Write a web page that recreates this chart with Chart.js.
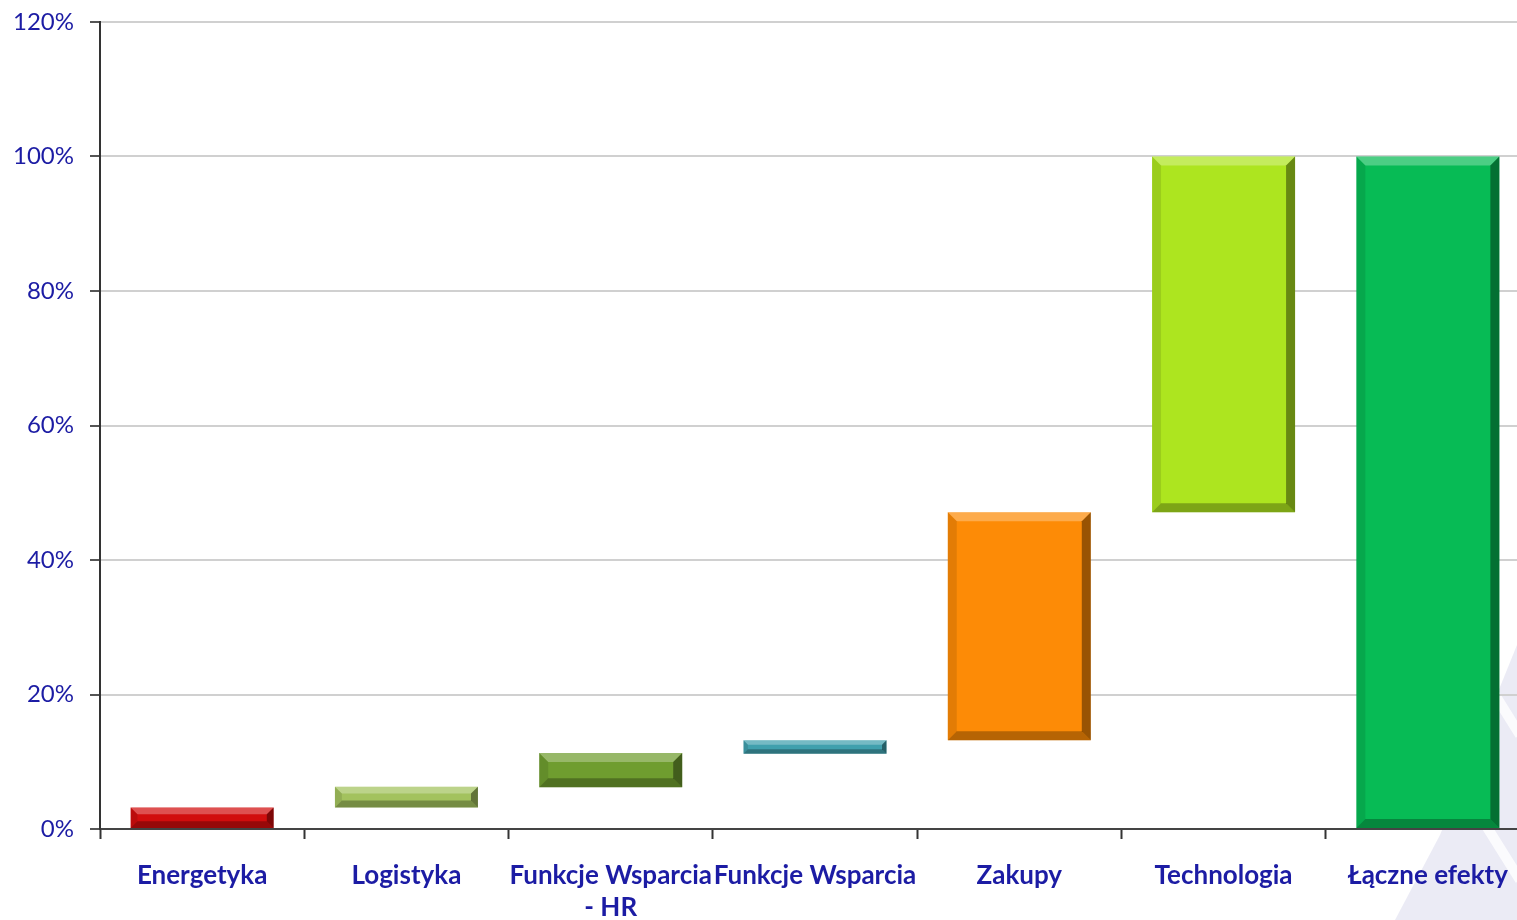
<!DOCTYPE html>
<html lang="pl">
<head>
  <meta charset="UTF-8" />
  <title>Efekty – wykres kaskadowy</title>
  <script src="https://cdn.jsdelivr.net/npm/chart.js"></script>
  <style>
    body {
      margin: 0;
      padding: 0;
      background: #ffffff;
      overflow: hidden;
    }
    /* plot runs a little past the right edge of the window, like the original */
    #chart-container {
      width: 1530px;
      height: 920px;
      position: relative;
    }
  </style>
</head>
<body>
  <div id="chart-container">
    <canvas id="waterfall"></canvas>
  </div>

  <script>
    // categories and floating bar ranges (% of total effect)
    const categories = [
      'Energetyka',
      'Logistyka',
      ['Funkcje Wsparcia', '- HR'],
      'Funkcje Wsparcia',
      'Zakupy',
      'Technologia',
      'Łączne efekty'
    ];
    const barStart = [0, 3.2, 6.2, 11.2, 13.2, 47.1, 0];
    const barEnd   = [3.2, 6.3, 11.3, 13.2, 47.1, 100, 100];
    const barColors = ['#d10d0d', '#a3c25e', '#6f9d2f', '#40a0ad', '#fd8b06', '#ade51f', '#07bb55'];
    const yTicks = [0, 20, 40, 60, 80, 100, 120];

    const labelBlue = '#1c1ca4';

    // faint watermark in the bottom-right corner
    const watermark = {
      id: 'watermark',
      beforeDraw(chart) {
        const c = chart.ctx;
        c.save();
        c.fillStyle = 'rgba(225, 225, 240, 0.65)';
        c.beginPath();
        c.moveTo(1517, 645);
        c.lineTo(1517, 920);
        c.lineTo(1395, 920);
        c.lineTo(1440, 835);
        c.closePath();
        c.fill();
        c.strokeStyle = 'rgba(255, 255, 255, 0.8)';
        c.lineWidth = 10;
        c.beginPath();
        c.moveTo(1492, 690); c.lineTo(1520, 735);
        c.moveTo(1470, 800); c.lineTo(1520, 880);
        c.stroke();
        c.restore();
      }
    };

    // bevel look of the bars
    const bevel = {
      id: 'bevel',
      afterDatasetsDraw(chart) {
        const c = chart.ctx;
        chart.getDatasetMeta(0).data.forEach(bar => {
          const p = bar.getProps(['x', 'y', 'base', 'width'], true);
          const l = p.x - p.width / 2, r = p.x + p.width / 2;
          const t = Math.min(p.y, p.base), b = Math.max(p.y, p.base);
          const h = b - t;
          const d = Math.min(9, h / 3);
          c.save();
          // top highlight
          c.fillStyle = 'rgba(255,255,255,0.28)';
          c.beginPath();
          c.moveTo(l, t); c.lineTo(r, t); c.lineTo(r - d, t + d); c.lineTo(l + d, t + d);
          c.closePath(); c.fill();
          // left
          c.fillStyle = 'rgba(0,0,0,0.10)';
          c.beginPath();
          c.moveTo(l, t); c.lineTo(l + d, t + d); c.lineTo(l + d, b - d); c.lineTo(l, b);
          c.closePath(); c.fill();
          // right shade
          c.fillStyle = 'rgba(0,0,0,0.40)';
          c.beginPath();
          c.moveTo(r, t); c.lineTo(r, b); c.lineTo(r - d, b - d); c.lineTo(r - d, t + d);
          c.closePath(); c.fill();
          // bottom shade
          c.fillStyle = 'rgba(0,0,0,0.28)';
          c.beginPath();
          c.moveTo(l, b); c.lineTo(r, b); c.lineTo(r - d, b - d); c.lineTo(l + d, b - d);
          c.closePath(); c.fill();
          c.restore();
        });
      }
    };

    const ctx = document.getElementById('waterfall').getContext('2d');
    new Chart(ctx, {
      type: 'bar',
      data: {
        labels: categories,
        datasets: [{
          data: barStart.map((s, i) => [s, barEnd[i]]),
          backgroundColor: barColors,
          borderWidth: 0,
          borderSkipped: false,
          barPercentage: 0.7,
          categoryPercentage: 1.0
        }]
      },
      options: {
        responsive: true,
        maintainAspectRatio: false,
        animation: false,
        layout: {
          padding: { top: 22, right: 0, bottom: 0, left: 0 }
        },
        plugins: {
          legend: { display: false },
          tooltip: { enabled: false }
        },
        scales: {
          x: {
            afterFit(scale) {
              scale.height = 91;
              scale.paddingLeft = 0;
              scale.paddingRight = 0;
            },
            border: { color: '#444', width: 2 },
            grid: {
              offset: true,
              drawOnChartArea: false,
              tickLength: 10,
              tickWidth: 2,
              tickColor: '#333'
            },
            ticks: {
              autoSkip: false,
              maxRotation: 0,
              padding: 20,
              color: labelBlue,
              font: { family: 'Lato', size: 26, weight: 'bold', lineHeight: 1.25 }
            }
          },
          y: {
            min: 0,
            max: 120,
            afterFit(scale) {
              scale.width = 100;
              scale.paddingTop = 0;
              scale.paddingBottom = 0;
            },
            afterBuildTicks(scale) {
              scale.ticks = yTicks.map(v => ({ value: v }));
            },
            border: { color: '#333', width: 2 },
            grid: {
              color: '#d0d0d0',
              lineWidth: 2,
              tickLength: 10,
              tickColor: '#555'
            },
            ticks: {
              padding: 16,
              color: labelBlue,
              font: { family: 'Lato', size: 24 },
              callback: v => v + '%'
            }
          }
        }
      },
      plugins: [watermark, bevel]
    });
  </script>
</body>
</html>
